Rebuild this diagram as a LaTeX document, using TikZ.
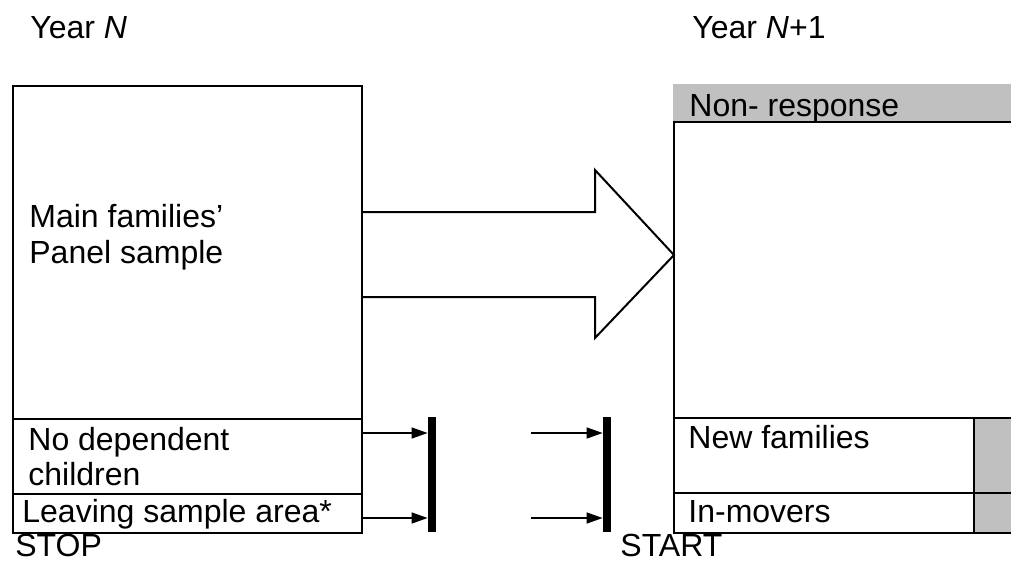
\documentclass[tikz,border=0pt]{standalone}
\usepackage{fontspec}
\setmainfont{Liberation Sans}
\usetikzlibrary{arrows.meta}
\definecolor{band}{HTML}{C0C0C0}
\begin{document}
\begin{tikzpicture}[x=0.5pt,y=-0.5pt,
  font=\fontsize{16}{19}\selectfont,
  box/.style={draw, line width=1pt, inner sep=0pt, anchor=north west},
  lbl/.style={anchor=base west, inner sep=0pt},
  bar/.style={fill=black, inner sep=0pt, minimum width=4pt, minimum height=57.5pt, anchor=north},
  flow/.style={line width=0.75pt, -{Triangle[length=8pt,width=5.5pt]}},
  edge/.style={line width=1pt}]
\useasboundingbox (0,0) rectangle (1011,562);

% titles
\node[lbl] (yn) at (30,38) {Year \textit{N}};
\node[lbl] (yn1) at (692,38) {Year \textit{N}+1};

% left boxes
\node[box, minimum width=174.5pt, minimum height=166.5pt] (main) at (12,85) {};
\node[box, minimum width=174.5pt, minimum height=37.5pt] (nodep) at (12,418) {};
\node[box, minimum width=174.5pt, minimum height=19.5pt] (leave) at (12,493) {};
\node[lbl] (t1) at (29,227) {Main families’};
\node[lbl] (t2) at (29,263) {Panel sample};
\node[lbl] (t3) at (28,450) {No dependent};
\node[lbl] (t4) at (28,485) {children};
\node[lbl] (t5) at (22,522) {Leaving sample area*};
\node[lbl] (stop) at (15,556) {STOP};

% big arrow
\draw[edge, line join=miter] (main.east |- 0,212) -- (595,212) -- (595,170) -- (674,255) -- (595,338) -- (595,297) -- (main.east |- 0,297);

% right side
\node[fill=band, inner sep=0pt, anchor=north west, minimum width=169pt, minimum height=19pt] (nr) at (673,84) {};
\node[lbl] (t6) at (689,116) {Non- response};
\node[inner sep=0pt, anchor=north west, minimum width=168.5pt, minimum height=148pt] (rmain) at (674,122) {};
\node[inner sep=0pt, anchor=north west, minimum width=150pt, minimum height=37.5pt] (rnew) at (674,418) {};
\node[inner sep=0pt, anchor=north west, minimum width=150pt, minimum height=19.5pt] (rin) at (674,493) {};
\node[fill=band, inner sep=0pt, anchor=north west, minimum width=18.5pt, minimum height=37.5pt] (gnew) at (974,418) {};
\node[fill=band, inner sep=0pt, anchor=north west, minimum width=18.5pt, minimum height=19.5pt] (gin) at (974,493) {};
\draw[edge] (rmain.north east) -- (rmain.north west) -- (rin.south west) -- (gin.south east);
\draw[edge] (rnew.north west) -- (gnew.north east);
\draw[edge] (rin.north west) -- (gin.north east);
\draw[edge] (gnew.north west) -- (gin.south west);
\node[lbl] (t7) at (688,448) {New families};
\node[lbl] (t8) at (688,522) {In-movers};
\node[lbl] (start) at (620,556) {START};

% bars and small arrows
\node[bar] (bar1) at (432,417) {};
\node[bar] (bar2) at (607,417) {};
\coordinate (ya) at (0,433);
\coordinate (yb) at (0,518);
\coordinate (s1) at (531,433);
\coordinate (s2) at (531,518);
\draw[flow] (nodep.east |- ya) -- (bar1.west |- ya);
\draw[flow] (leave.east |- yb) -- (bar1.west |- yb);
\draw[flow] (s1) -- (bar2.west |- s1);
\draw[flow] (s2) -- (bar2.west |- s2);
\end{tikzpicture}
\end{document}
